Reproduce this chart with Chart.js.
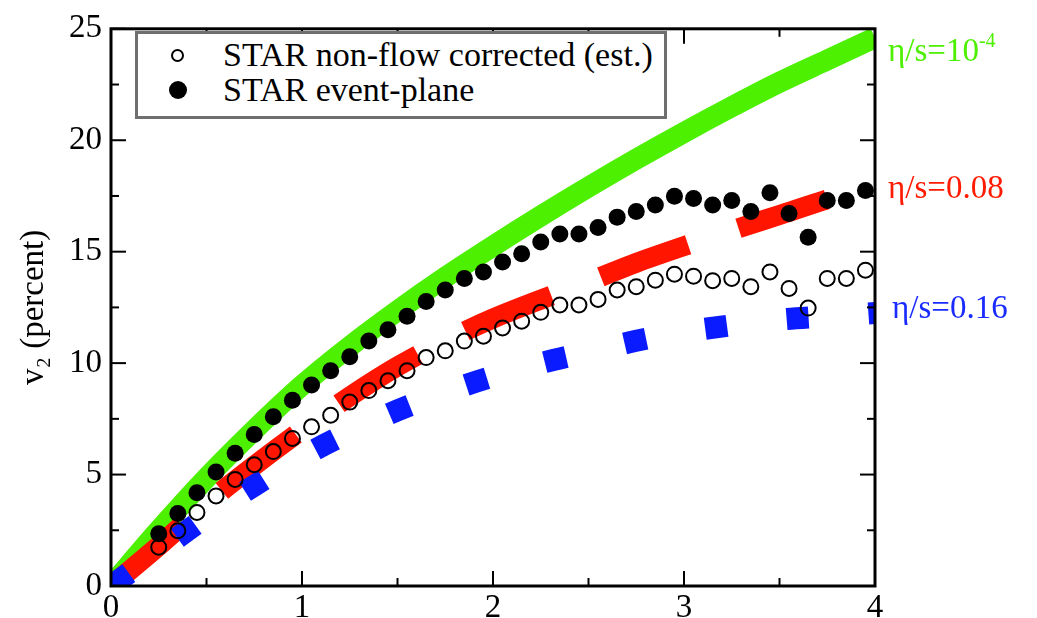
<!DOCTYPE html>
<html>
<head>
<meta charset="utf-8">
<script src="https://cdn.jsdelivr.net/npm/chart.js@4"></script>
<style>
  body { margin: 0; background: #fff; }
  #wrap { position: relative; width: 1037px; height: 618px; font-family: "Liberation Serif", serif; }
  #legend { position: absolute; left: 135px; top: 31px; width: 526px; height: 82px; border: 3px solid #6f6f6f; background: #fff; }
  .row { position: absolute; left: 0; font-size: 34px; line-height: 34px; white-space: nowrap; }
  .mk { position: absolute; border-radius: 50%; box-sizing: border-box; }
  .lab { position: absolute; font-size: 33px; line-height: 33px; white-space: nowrap; }
  .lab sup { font-size: 20px; vertical-align: 14px; }
</style>
</head>
<body>
<div id="wrap">
  <canvas id="myChart" width="1037" height="618"></canvas>
  <div id="legend">
    <div class="mk" style="left:33px;top:15px;width:13px;height:13px;border:2px solid #000"></div>
    <div class="row" style="left:85px;top:4px">STAR non-flow corrected (est.)</div>
    <div class="mk" style="left:31px;top:47px;width:18px;height:18px;background:#000"></div>
    <div class="row" style="left:85px;top:39px">STAR event-plane</div>
  </div>
  <div class="lab" style="left:888px;top:24px;color:#4cf000">η/s=10<sup>-4</sup></div>
  <div class="lab" style="left:888px;top:171px;color:#ff1a00">η/s=0.08</div>
  <div class="lab" style="left:892px;top:291px;color:#1a2bff">η/s=0.16</div>
</div>
<script>
// STAR data points (pT in GeV, v2 in percent)
const ptX = [0.25, 0.35, 0.45, 0.55, 0.65, 0.75, 0.85, 0.95, 1.05, 1.15, 1.25, 1.35, 1.45,
  1.55, 1.65, 1.75, 1.85, 1.95, 2.05, 2.15, 2.25, 2.35, 2.45, 2.55, 2.65, 2.75, 2.85, 2.95,
  3.05, 3.15, 3.25, 3.35, 3.45, 3.55, 3.65, 3.75, 3.85, 3.95];
const nonFlow = [1.74, 2.48, 3.30, 4.04, 4.78, 5.44, 6.03, 6.62, 7.14, 7.66, 8.25, 8.77, 9.21,
  9.66, 10.25, 10.55, 10.99, 11.21, 11.58, 11.88, 12.28, 12.61, 12.61, 12.86, 13.28, 13.43, 13.72, 13.99,
  13.9, 13.7, 13.8, 13.43, 14.09, 13.35, 12.47, 13.8, 13.8, 14.17];
const eventPlane = [2.34, 3.25, 4.18, 5.12, 5.96, 6.80, 7.59, 8.33, 9.02, 9.66, 10.29, 10.99, 11.5,
  12.1, 12.76, 13.28, 13.8, 14.09, 14.54, 14.91, 15.43, 15.79, 15.79, 16.09, 16.55, 16.8, 17.09, 17.49,
  17.39, 17.09, 17.3, 16.8, 17.64, 16.71, 15.65, 17.3, 17.3, 17.75];

// hydro curves
const curveX = [0, 0.25, 0.5, 0.75, 1, 1.25, 1.5, 1.75, 2, 2.25, 2.5, 2.75, 3, 3.25, 3.5, 3.75, 4];
const ideal = [0, 2.5, 4.85, 7.0, 9.0, 10.75, 12.35, 13.85, 15.25, 16.6, 17.9, 19.15, 20.35, 21.5, 22.6, 23.6, 24.6];
const visc008 = [0, 1.8, 3.7, 5.4, 7.0, 8.5, 9.85, 11.0, 12.0, 12.85, 13.65, 14.5, 15.25, 15.95, 16.65, 17.35, 18.0];
const visc016 = [0, 1.55, 3.1, 4.5, 5.8, 6.9, 7.88, 8.7, 9.4, 10.0, 10.5, 11.0, 11.4, 11.7, 11.95, 12.1, 12.25];

const xTicks = [0, 1, 2, 3, 4];
const yTicks = [0, 5, 10, 15, 20, 25];

function pts(xs, ys) { return xs.map((x, i) => ({ x: x, y: ys[i] })); }

// frame with inward ticks on all four sides
const frame = {
  id: 'frame',
  afterDatasetsDraw(chart) {
    const { ctx, chartArea: a, scales: { x, y } } = chart;
    ctx.save();
    ctx.strokeStyle = '#000';
    ctx.lineWidth = 3;
    ctx.strokeRect(a.left, a.top, a.right - a.left, a.bottom - a.top);
    ctx.lineWidth = 2;
    const seg = (x1, y1, x2, y2) => { ctx.beginPath(); ctx.moveTo(x1, y1); ctx.lineTo(x2, y2); ctx.stroke(); };
    for (let v = 0; v <= 4; v += 0.5) {
      const p = x.getPixelForValue(v);
      const len = xTicks.includes(v) ? 15 : 8;
      seg(p, a.bottom, p, a.bottom - len);
      seg(p, a.top, p, a.top + len);
    }
    for (let v = 0; v <= 25; v += 2.5) {
      const p = y.getPixelForValue(v);
      const len = yTicks.includes(v) ? 15 : 8;
      seg(a.left, p, a.left + len, p);
      seg(a.right, p, a.right - len, p);
    }
    ctx.restore();
  }
};

const curve = { showLine: true, pointRadius: 0, tension: 0.4, cubicInterpolationMode: 'monotone', fill: false };

const ctx = document.getElementById('myChart').getContext('2d');
new Chart(ctx, {
  type: 'scatter',
  data: {
    datasets: [
      { label: 'STAR event-plane', data: pts(ptX, eventPlane), pointRadius: 8.5,
        backgroundColor: '#000', borderColor: '#000', borderWidth: 0 },
      { label: 'STAR non-flow corrected (est.)', data: pts(ptX, nonFlow), pointRadius: 7.5,
        backgroundColor: 'rgba(0,0,0,0)', borderColor: '#000', borderWidth: 2 },
      Object.assign({ label: 'η/s=0.16', data: pts(curveX, visc016),
        borderColor: '#0a1cff', borderWidth: 22, borderDash: [22, 60] }, curve),
      Object.assign({ label: 'η/s=0.08', data: pts(curveX, visc008),
        borderColor: '#ff1500', borderWidth: 20, borderDash: [93, 53] }, curve),
      Object.assign({ label: 'η/s=10^-4', data: pts(curveX, ideal),
        borderColor: '#4cf000', borderWidth: 21 }, curve)
    ]
  },
  options: {
    responsive: false,
    animation: false,
    devicePixelRatio: 1,
    layout: { padding: { top: 22, right: 162, left: 0, bottom: 0 } },
    plugins: { legend: { display: false }, tooltip: { enabled: false } },
    scales: {
      x: {
        type: 'linear', min: 0, max: 4,
        afterFit(s) { s.height = 32; },
        grid: { display: false, drawTicks: false },
        border: { display: false },
        ticks: { stepSize: 1, padding: 3, color: '#000', font: { family: 'Liberation Serif', size: 33 } }
      },
      y: {
        type: 'linear', min: 0, max: 25,
        afterFit(s) { s.width = 111; },
        grid: { display: false, drawTicks: false },
        border: { display: false },
        ticks: { stepSize: 5, padding: 9, color: '#000', font: { family: 'Liberation Serif', size: 33 } },
        title: { display: true, text: 'v₂ (percent)', color: '#000', padding: { top: 15 },
          font: { family: 'Liberation Serif', size: 33 } }
      }
    }
  },
  plugins: [frame]
});
</script>
</body>
</html>
